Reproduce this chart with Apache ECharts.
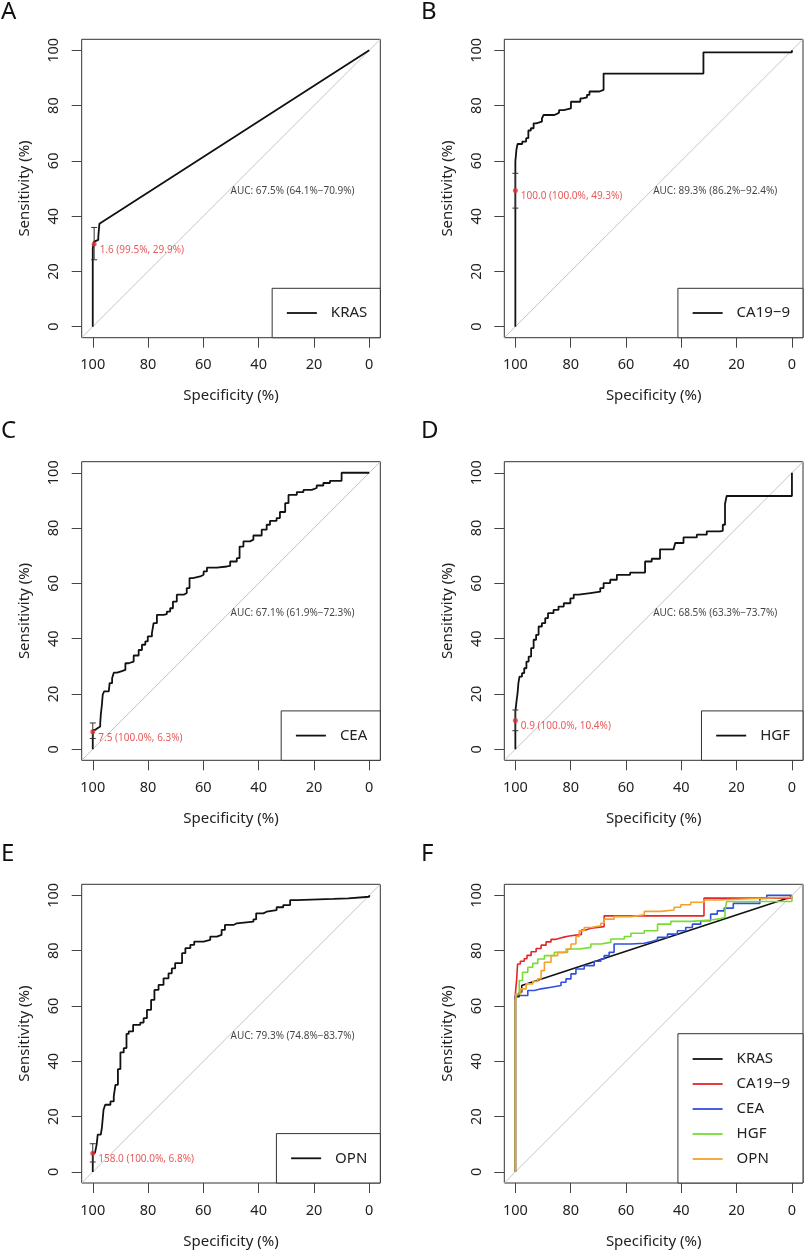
<!DOCTYPE html>
<html><head><meta charset="utf-8">
<script src="https://cdn.jsdelivr.net/npm/echarts@6/dist/echarts.min.js"></script>
<style>html,body{margin:0;padding:0;background:#fff}#c{width:805px;height:1253px}</style>
</head><body><div id="c"></div>
<script>
// ---------- data ----------
const TICKS = [0, 20, 40, 60, 80, 100];
const AX_MIN = -4, AX_MAX = 104;
const panelLetters = ['A', 'B', 'C', 'D', 'E', 'F'];
const markers = ['KRAS', 'CA19−9', 'CEA', 'HGF', 'OPN'];

// Panel A: KRAS (explicit vertices)
const krasSpec = [100, 100, 99.5, 99.5, 98.8, 98.8, 98.0, 98.0, 97.6, 97.6, 0];
const krasSens = [0, 28.4, 28.4, 30.8, 30.8, 31.4, 31.4, 32.6, 32.6, 37.2, 100];
// Panel B: CA19-9 (step knots)
const ca199Spec = [100, 100, 99.6, 99.2, 97.5, 96.1, 95.3, 94.4, 93.4, 92.5, 90.4, 89.8, 85.9, 85.0, 84.2, 82.5, 79.9, 76.5, 75.6, 74.1, 73.2, 69.6, 68.1, 32.0, 0];
const ca199Sens = [0, 59.8, 64.2, 66.1, 67.0, 68.2, 71.0, 71.8, 73.6, 74.2, 75.4, 76.6, 77.0, 77.4, 78.4, 79.0, 81.4, 82.6, 83.0, 83.9, 85.1, 85.7, 91.6, 99.3, 100];
// Panel C: CEA
const ceaSpec = [100, 100, 99.2, 98.3, 97.3, 97.1, 96.7, 96.4, 95.9, 94.2, 93.9, 93.0, 92.4, 91.2, 90.0, 88.2, 87.0, 85.2, 83.4, 82.2, 81.0, 80.1, 78.6, 78.0, 76.8, 74.4, 73.2, 72.0, 71.0, 69.6, 67.1, 66.0, 65.0, 63.8, 61.1, 59.9, 58.7, 55.1, 51.5, 50.3, 47.9, 46.9, 45.5, 43.1, 41.9, 38.9, 37.1, 35.9, 33.5, 32.3, 30.4, 29.2, 26.2, 23.8, 20.8, 19.0, 16.6, 14.2, 10.0, 0];
const ceaSens = [0, 7.0, 7.6, 8.2, 9.4, 12.4, 16.0, 19.7, 20.9, 21.5, 23.9, 25.7, 27.7, 28.1, 28.7, 31.1, 31.7, 33.9, 35.9, 37.8, 39.0, 40.8, 42.0, 45.6, 48.6, 48.9, 49.8, 51.0, 53.4, 55.9, 56.5, 58.3, 61.9, 62.5, 63.1, 64.3, 65.7, 66.1, 66.3, 67.9, 69.1, 73.3, 75.2, 75.8, 77.3, 79.4, 81.2, 82.6, 83.6, 85.8, 89.0, 92.0, 93.0, 93.8, 94.5, 95.4, 96.3, 97.1, 100, 100];
// Panel D: HGF
const hgfSpec = [100, 100, 99.6, 99.2, 98.9, 98.5, 97.6, 96.8, 96.0, 95.2, 94.3, 93.4, 92.5, 91.6, 90.4, 89.2, 88.2, 86.2, 84.4, 82.5, 80.1, 78.9, 77.1, 72.9, 69.3, 68.1, 65.7, 63.3, 58.5, 53.1, 53.1, 50.7, 47.7, 42.8, 42.2, 39.2, 34.4, 30.8, 26.0, 25.0, 24.2, 24.2, 23.6, 0];
const hgfSens = [0, 13.6, 17.2, 20.3, 23.9, 26.3, 27.5, 29.3, 31.7, 33.5, 36.6, 39.6, 41.4, 44.4, 45.6, 47.4, 49.2, 50.4, 51.6, 52.8, 54.6, 55.9, 56.5, 57.0, 58.3, 60.1, 61.3, 63.1, 63.9, 64.8, 67.9, 68.9, 72.3, 72.9, 74.6, 76.6, 77.6, 78.8, 79.0, 81.2, 82.4, 88.7, 91.6, 100];
// Panel E: OPN
const opnSpec = [100, 100, 99.2, 98.6, 98.2, 97.1, 96.7, 96.1, 95.5, 93.6, 92.4, 91.8, 90.9, 90.0, 88.8, 87.8, 87.0, 85.4, 82.8, 81.6, 80.4, 78.9, 77.7, 76.2, 74.4, 72.6, 71.4, 70.2, 67.7, 66.5, 64.7, 63.3, 59.9, 57.5, 55.1, 53.4, 52.2, 49.1, 47.9, 41.9, 40.9, 38.3, 37.1, 33.5, 31.1, 28.6, 26.2, 13.0, 7.6, 0];
const opnSens = [0, 6.9, 7.5, 9.9, 13.5, 14.1, 15.9, 22.5, 24.3, 25.5, 27.3, 31.5, 37.2, 43.2, 44.8, 49.9, 50.8, 53.2, 54.0, 55.6, 58.6, 62.2, 65.8, 67.6, 70.0, 71.8, 73.6, 75.5, 79.1, 80.9, 82.1, 83.3, 83.9, 85.1, 85.7, 87.5, 89.3, 89.9, 90.5, 91.3, 93.5, 94.1, 94.7, 95.7, 96.5, 98.3, 98.7, 98.9, 99.5, 100];

// Panel F: combined curves
const fKrasSpec = [100, 100, 98.6, 98.6, 97.7, 97.7, 0];
const fKrasSens = [0, 63.4, 63.4, 65.0, 65.0, 67.4, 99.5];
const fCa199Spec = [100, 100, 99.5, 99.2, 98.2, 96.8, 95.8, 94.3, 92.5, 90.7, 88.9, 87.1, 85.3, 82.9, 80.5, 77.5, 76.1, 74.5, 72.7, 67.9, 31.8, 0];
const fCa199Sens = [0, 64.4, 70.0, 75.2, 76.2, 77.1, 78.3, 79.6, 80.8, 82.0, 83.2, 84.1, 84.8, 85.3, 85.7, 85.9, 87.5, 88.1, 88.7, 92.6, 99.0, 99.5];
const fCeaSpec = [100, 100, 99.4, 95.5, 93.1, 90.7, 87.1, 83.5, 81.7, 79.9, 78.1, 75.1, 71.5, 69.1, 67.9, 66.1, 64.3, 58.2, 53.4, 50.4, 48.6, 45.0, 41.4, 38.4, 36.0, 33.0, 29.4, 27.0, 24.5, 21.2, 11.6, 9.1, 0];
const fCeaSens = [0, 63.8, 63.8, 65.6, 66.2, 66.8, 67.4, 68.6, 69.8, 71.6, 73.4, 74.6, 76.2, 77.0, 78.2, 79.4, 82.4, 82.7, 83.4, 83.9, 84.8, 86.0, 87.2, 88.4, 89.6, 90.8, 93.2, 94.4, 95.4, 97.1, 98.9, 100, 100];
const fHgfSpec = [100, 100, 99.4, 98.6, 97.4, 95.5, 93.7, 91.9, 89.5, 85.9, 81.1, 76.9, 72.7, 69.1, 65.5, 60.6, 58.2, 53.4, 48.6, 43.8, 36.6, 29.4, 25.8, 24.2, 23.6, 0];
const fHgfSens = [0, 62.0, 64.4, 69.2, 72.2, 74.0, 75.4, 77.0, 78.2, 79.4, 80.6, 81.2, 82.4, 83.0, 84.2, 85.1, 86.3, 87.2, 89.6, 90.6, 91.1, 91.6, 92.1, 94.7, 97.8, 99.5];
const fOpnSpec = [100, 100, 99.8, 98.0, 96.1, 93.7, 91.9, 90.7, 89.5, 87.1, 84.7, 81.7, 79.9, 78.1, 76.9, 75.1, 72.7, 69.1, 67.9, 64.3, 58.2, 53.4, 47.4, 42.6, 40.2, 36.6, 31.8, 27.0, 15.0, 0];
const fOpnSens = [0, 62.0, 64.4, 66.2, 68.0, 68.9, 69.8, 72.8, 75.8, 78.2, 79.4, 80.6, 82.4, 85.1, 87.2, 88.4, 89.0, 89.9, 91.4, 92.3, 93.0, 94.2, 94.7, 95.7, 96.6, 97.5, 98.3, 98.8, 99.3, 100];

// Thresholds (panels A-E)
const thrLabels = ['1.6 (99.5%, 29.9%)', '100.0 (100.0%, 49.3%)', '7.5 (100.0%, 6.3%)', '0.9 (100.0%, 10.4%)', '158.0 (100.0%, 6.8%)'];
const thrSpec = [99.5, 100, 100, 100, 100];
const thrSens = [29.9, 49.3, 6.3, 10.4, 6.8];
const ciLo = [24.2, 42.9, 3.9, 6.7, 3.6];
const ciHi = [35.9, 55.5, 9.5, 14.2, 10.2];
const aucLabels = ['AUC: 67.5% (64.1%−70.9%)', 'AUC: 89.3% (86.2%−92.4%)', 'AUC: 67.1% (61.9%−72.3%)', 'AUC: 68.5% (63.3%−73.7%)', 'AUC: 79.3% (74.8%−83.7%)'];
const aucPos = [50, 50];

// ---------- layout / style ----------
const FONT = 'Noto Sans';
const RED = '#e2302f';
const fColors = ['#111111', '#e3262a', '#3050dc', '#77dd33', '#f6a02e'];
const cols = [{ left: 81.7, width: 298.6 }, { left: 504.3, width: 298.7 }];
const rows = [{ top: 39.3, height: 298.4 }, { top: 461.7, height: 298.6 }, { top: 884.3, height: 298.7 }];
const letterPos = [[1, 0], [421, 0], [1, 419], [421, 419], [1, 842], [421, 842]];

const singles = [
  [krasSpec, krasSens, false], [ca199Spec, ca199Sens, 'end'], [ceaSpec, ceaSens, 'end'],
  [hgfSpec, hgfSens, 'end'], [opnSpec, opnSens, 'end']
];
const fCurves = [
  [fKrasSpec, fKrasSens, false], [fCa199Spec, fCa199Sens, 'end'], [fCeaSpec, fCeaSens, 'end'],
  [fHgfSpec, fHgfSens, 'end'], [fOpnSpec, fOpnSens, 'end']
];
const zip = (a, b) => a.map((v, i) => [v, b[i]]);

const grids = [], xAxes = [], yAxes = [], series = [], legends = [], titles = [];
for (let p = 0; p < 6; p++) {
  const c = cols[p % 2], r = rows[Math.floor(p / 2)];
  grids.push({ left: c.left, top: r.top, width: c.width, height: r.height, show: true,
    borderColor: '#333', borderWidth: 1, backgroundColor: 'transparent', containLabel: false });
  xAxes.push({ type: 'value', gridIndex: p, inverse: true, min: AX_MIN, max: AX_MAX, position: 'bottom',
    axisLine: { show: false, onZero: false }, splitLine: { show: false },
    axisTick: { show: true, length: 10, customValues: TICKS, lineStyle: { color: '#444' } },
    axisLabel: { customValues: TICKS, margin: 20, fontSize: 14.5, color: '#222', fontFamily: FONT },
    name: 'Specificity (%)', nameLocation: 'middle', nameGap: 51,
    nameTextStyle: { fontSize: 15, color: '#222', fontFamily: FONT } });
  yAxes.push({ type: 'value', gridIndex: p, min: AX_MIN, max: AX_MAX, position: 'left',
    axisLine: { show: false, onZero: false }, splitLine: { show: false },
    axisTick: { show: true, length: 10, customValues: TICKS, lineStyle: { color: '#444' } },
    axisLabel: { customValues: TICKS, margin: 20, rotate: 90, fontSize: 14.5, color: '#222', fontFamily: FONT },
    name: 'Sensitivity (%)', nameLocation: 'middle', nameGap: 49,
    nameTextStyle: { fontSize: 15, color: '#222', fontFamily: FONT } });
  titles.push({ text: panelLetters[p], left: letterPos[p][0], top: letterPos[p][1], padding: 0,
    textStyle: { fontSize: 24, fontWeight: 'normal', color: '#111', fontFamily: FONT } });
  // diagonal reference line across the whole plot region
  series.push({ type: 'line', xAxisIndex: p, yAxisIndex: p, symbol: 'none', silent: true, z: 1,
    data: [[AX_MIN, 100 - AX_MIN], [AX_MAX, 100 - AX_MAX]],
    lineStyle: { color: '#c6c6c6', width: 1 } });
}

const legendBase = {
  orient: 'vertical', icon: 'rect', itemWidth: 30, itemHeight: 1.8, itemGap: 9, selectedMode: false,
  borderColor: '#333', borderWidth: 1, backgroundColor: '#fff', borderRadius: 0,
  textStyle: { fontSize: 15, lineHeight: 16, color: '#222', fontFamily: FONT, padding: [0, 0, 0, 9] },
  formatter: n => n.split('|')[1]
};
const legendPlace = [
  { right: 424.7, bottom: 915.3 }, { right: 2, bottom: 915.3 },
  { right: 424.7, bottom: 492.7 }, { right: 2, bottom: 492.7 },
  { right: 424.7, bottom: 70 }, { right: 2, bottom: 70 }
];

for (let p = 0; p < 5; p++) {
  const [sp, se, st] = singles[p];
  const nm = panelLetters[p] + '|' + markers[p];
  series.push({ name: nm, type: 'line', xAxisIndex: p, yAxisIndex: p, step: st, symbol: 'none',
    data: zip(sp, se), lineStyle: { color: '#111', width: 1.8 }, itemStyle: { color: '#111' }, z: 3, silent: true });
  series.push({ type: 'custom', xAxisIndex: p, yAxisIndex: p, z: 4, silent: true,
    data: [[thrSpec[p], ciLo[p], ciHi[p]]], encode: { x: 0, y: [1, 2] },
    renderItem: (params, api) => {
      const a = api.coord([api.value(0), api.value(1)]);
      const b = api.coord([api.value(0), api.value(2)]);
      const st = { stroke: '#333', lineWidth: 1 };
      return { type: 'group', children: [
        { type: 'line', shape: { x1: a[0], y1: a[1], x2: b[0], y2: b[1] }, style: st },
        { type: 'line', shape: { x1: a[0] - 3, y1: a[1], x2: a[0] + 3, y2: a[1] }, style: st },
        { type: 'line', shape: { x1: b[0] - 3, y1: b[1], x2: b[0] + 3, y2: b[1] }, style: st }
      ] };
    } });
  series.push({ type: 'scatter', xAxisIndex: p, yAxisIndex: p, z: 5, silent: true,
    data: [[thrSpec[p], thrSens[p]]], symbolSize: 5, itemStyle: { color: RED },
    label: { show: true, formatter: thrLabels[p], position: 'right', distance: 3, offset: [0, 6],
      color: RED, fontSize: 10, fontFamily: FONT } });
  series.push({ type: 'scatter', xAxisIndex: p, yAxisIndex: p, z: 5, silent: true,
    data: [aucPos], symbolSize: 1, itemStyle: { color: 'rgba(0,0,0,0)' },
    label: { show: true, formatter: aucLabels[p], position: [0, -2], align: 'left', verticalAlign: 'top',
      color: '#111', fontSize: 10, fontFamily: FONT } });
  legends.push(Object.assign({}, legendBase, legendPlace[p], { data: [nm], padding: [16.7, 13, 16.7, 14.7] }));
}
const fNames = [];
for (let k = 0; k < 5; k++) {
  const [sp, se, st] = fCurves[k];
  const nm = 'F|' + markers[k];
  fNames.push(nm);
  series.push({ name: nm, type: 'line', xAxisIndex: 5, yAxisIndex: 5, step: st, symbol: 'none',
    data: zip(sp, se), lineStyle: { color: fColors[k], width: 1.6 }, itemStyle: { color: fColors[k] }, z: 3, silent: true });
}
legends.push(Object.assign({}, legendBase, legendPlace[5], { data: fNames, padding: [17.3, 13, 16, 14.7] }));

const chart = echarts.init(document.getElementById('c'), null, { renderer: 'canvas' });
chart.setOption({
  animation: false,
  backgroundColor: '#fff',
  title: titles,
  grid: grids, xAxis: xAxes, yAxis: yAxes,
  legend: legends,
  series: series
});
</script></body></html>
